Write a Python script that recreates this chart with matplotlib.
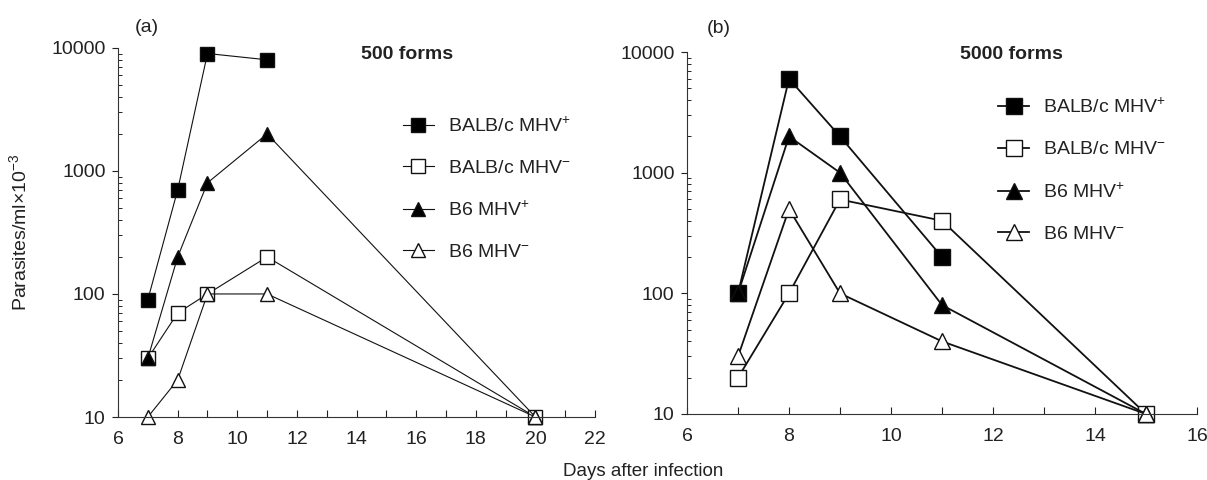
import matplotlib.pyplot as plt
from matplotlib.ticker import LogLocator, NullFormatter, FixedLocator

plt.rcParams['font.family'] = ['Liberation Sans', 'DejaVu Sans']
plt.rcParams['mathtext.fontset'] = 'custom'
plt.rcParams['mathtext.rm'] = 'Liberation Sans'
plt.rcParams['mathtext.it'] = 'Liberation Sans'
plt.rcParams['mathtext.bf'] = 'Liberation Sans:bold'

labels = ['BALB/c MHV$^{+}$', 'BALB/c MHV$^{-}$', 'B6 MHV$^{+}$', 'B6 MHV$^{-}$']
markers = ['s', 's', '^', '^']
faces = ['black', 'white', 'black', 'white']

# panel (a): 500 forms
days_a = [[7, 8, 9, 11], [7, 8, 9, 11, 20], [7, 8, 9, 11, 20], [7, 8, 9, 11, 20]]
vals_a = [[90, 700, 9000, 8000],
          [30, 70, 100, 200, 10],
          [30, 200, 800, 2000, 10],
          [10, 20, 100, 100, 10]]

# panel (b): 5000 forms
days_b = [[7, 8, 9, 11], [7, 8, 9, 11, 15], [7, 8, 9, 11, 15], [7, 8, 9, 11, 15]]
vals_b = [[100, 6000, 2000, 200],
          [20, 100, 600, 400, 10],
          [100, 2000, 1000, 80, 10],
          [30, 500, 100, 40, 10]]

TXT = '#222222'
FS = 14

fig = plt.figure(figsize=(12.07, 4.8), dpi=100)
ax_a = fig.add_axes([0.0978, 0.13125, 0.3952, 0.769])
ax_b = fig.add_axes([0.5692, 0.1375, 0.4225, 0.754])


def style_axis(ax, xmax):
    ax.set_yscale('log')
    ax.set_ylim(10, 10000)
    ax.set_xlim(6, xmax)
    ax.spines['top'].set_visible(False)
    ax.spines['right'].set_visible(False)
    for s in ['left', 'bottom']:
        ax.spines[s].set_linewidth(0.8)
        ax.spines[s].set_color('#333333')
    ax.set_xticks(range(6, xmax + 1, 2))
    ax.xaxis.set_minor_locator(FixedLocator(range(7, xmax, 2)))
    ax.set_yticks([10, 100, 1000, 10000])
    ax.set_yticklabels(['10', '100', '1000', '10000'])
    ax.yaxis.set_minor_locator(LogLocator(base=10, subs=range(2, 10)))
    ax.yaxis.set_minor_formatter(NullFormatter())
    ax.tick_params(axis='x', which='both', direction='in', length=5, width=0.8,
                   labelsize=FS, pad=10, colors=TXT)
    ax.tick_params(axis='y', which='major', direction='out', length=4, width=0.8,
                   labelsize=FS, pad=5, colors=TXT)
    ax.tick_params(axis='y', which='minor', direction='in', length=3, width=0.6)


def draw_panel(ax, days, vals, lw, ms):
    for d, v, m, f, lab in zip(days, vals, markers, faces, labels):
        ax.plot(d, v, color='#111111', linewidth=lw, marker=m, markersize=ms,
                markerfacecolor=f, markeredgecolor='#111111', markeredgewidth=1.0,
                label=lab, clip_on=False)


draw_panel(ax_a, days_a, vals_a, 0.8, 10)
style_axis(ax_a, 22)
draw_panel(ax_b, days_b, vals_b, 1.3, 11)
style_axis(ax_b, 16)

ax_a.text(0.509, 0.981, '500 forms', transform=ax_a.transAxes, fontsize=FS,
          fontweight='bold', ha='left', va='center', color=TXT)
ax_b.text(0.535, 0.992, '5000 forms', transform=ax_b.transAxes, fontsize=FS,
          fontweight='bold', ha='left', va='center', color=TXT)

ax_a.text(0.036, 1.054, '(a)', transform=ax_a.transAxes, fontsize=FS,
          va='center', color=TXT)
ax_b.text(0.039, 1.066, '(b)', transform=ax_b.transAxes, fontsize=FS,
          va='center', color=TXT)

leg_kw = dict(frameon=False, fontsize=FS, handlelength=1.6, handletextpad=0.7,
              labelspacing=1.22, loc='upper left', borderaxespad=0, borderpad=0)
leg_a = ax_a.legend(bbox_to_anchor=(0.597, 0.815), **leg_kw)
leg_b = ax_b.legend(bbox_to_anchor=(0.61, 0.874), **leg_kw)
for leg in (leg_a, leg_b):
    for t in leg.get_texts():
        t.set_color(TXT)

ax_a.set_ylabel('Parasites/ml×10$^{-3}$', fontsize=FS, color=TXT)
ax_a.yaxis.set_label_coords(-0.184, 0.5)
fig.text(0.533, 0.018, 'Days after infection', ha='center', va='center',
         fontsize=13.5, color=TXT)

fig.savefig('out.png', dpi=100)
